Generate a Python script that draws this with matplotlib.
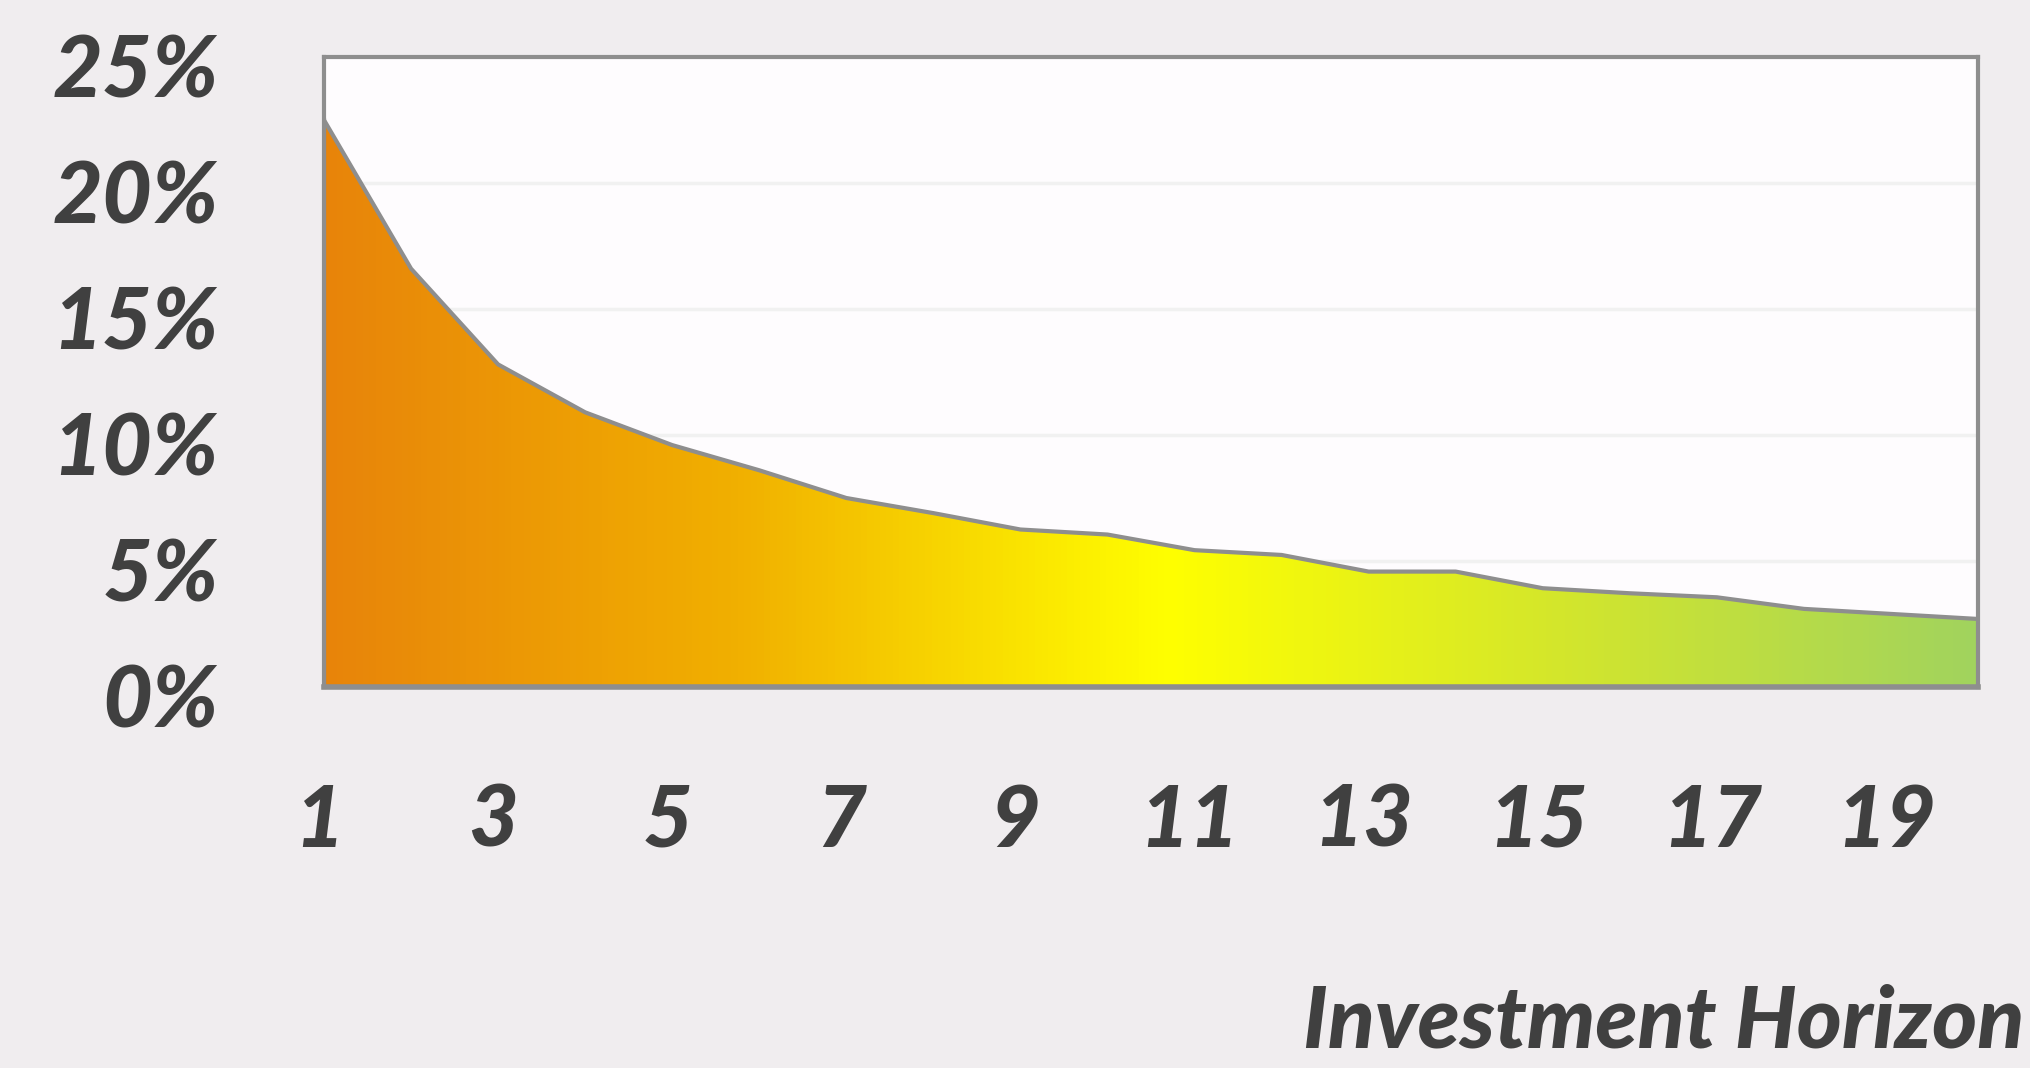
import numpy as np
import matplotlib
matplotlib.use("Agg")
from matplotlib import pyplot as plt
from matplotlib.colors import LinearSegmentedColormap
from matplotlib.transforms import ScaledTranslation

# data
years = list(range(1, 21))
values = [22.5, 16.6, 12.8, 10.9, 9.6, 8.6, 7.5, 6.9, 6.25, 6.05,
          5.43, 5.24, 4.58, 4.58, 3.92, 3.72, 3.56, 3.1, 2.9, 2.7]
y_ticks = [0, 5, 10, 15, 20, 25]
x_ticks = [1, 3, 5, 7, 9, 11, 13, 15, 17, 19]
x_title = "Investment Horizon"

text_col = "#404040"
frame_col = "#8e8e8e"
font = dict(family="Lato", weight="black", style="italic", size=62, color=text_col)

fig = plt.figure(figsize=(20.3, 10.68), dpi=100, facecolor="#f0edef")
ax = fig.add_axes([324 / 2030, 1 - 687 / 1068, (1978 - 324) / 2030, (687 - 57) / 1068])
ax.set_facecolor("#fefcfe")
ax.set_xlim(1, 20)
ax.set_ylim(0, 25)

# faint grid lines
for t in y_ticks[1:-1]:
    ax.axhline(t, color="#f1f1f1", lw=2.5, zorder=0)

# area with horizontal colour gradient
poly = ax.fill_between(years, values, 0, color="none", lw=0, zorder=1)
cmap = LinearSegmentedColormap.from_list(
    "grad", [(0, "#e8840a"), (0.25, "#f1b000"), (0.51, "#ffff00"),
             (0.75, "#d3e62c"), (1, "#a1d35e")])
grad = np.linspace(0, 1, 512).reshape(1, -1)
im = ax.imshow(grad, cmap=cmap, aspect="auto", extent=[1, 20, 0, 25],
               origin="lower", zorder=1)
im.set_clip_path(poly.get_paths()[0], transform=ax.transData)
ax.plot(years, values, color=frame_col, lw=3, zorder=3, solid_joinstyle="round")
ax.plot([1, 1], [0, values[0]], color=frame_col, lw=3, zorder=3)

for s in ax.spines.values():
    s.set_color(frame_col)
    s.set_linewidth(3)
    s.set_zorder(4)
ax.spines["bottom"].set_linewidth(4)

ax.set_yticks(y_ticks)
ax.set_yticklabels([f"{t}%" for t in y_ticks], fontdict=font)
ax.set_xticks(x_ticks)
ax.set_xticklabels([str(t) for t in x_ticks], fontdict=font)
ax.tick_params(axis="both", length=0)
ax.tick_params(axis="y", pad=76)
ax.tick_params(axis="x", pad=69)

# y labels sit a little below their grid lines
shift = ScaledTranslation(0, -9 / 100, fig.dpi_scale_trans)
for lab in ax.get_yticklabels():
    lab.set_transform(lab.get_transform() + shift)
shift_x = ScaledTranslation(-5 / 100, 0, fig.dpi_scale_trans)
for lab in ax.get_xticklabels():
    lab.set_transform(lab.get_transform() + shift_x)

fig.text(1303 / 2030, 1 - 1047 / 1068, x_title, ha="left", va="baseline", **font)

fig.savefig("out.png", dpi=100, facecolor=fig.get_facecolor())
